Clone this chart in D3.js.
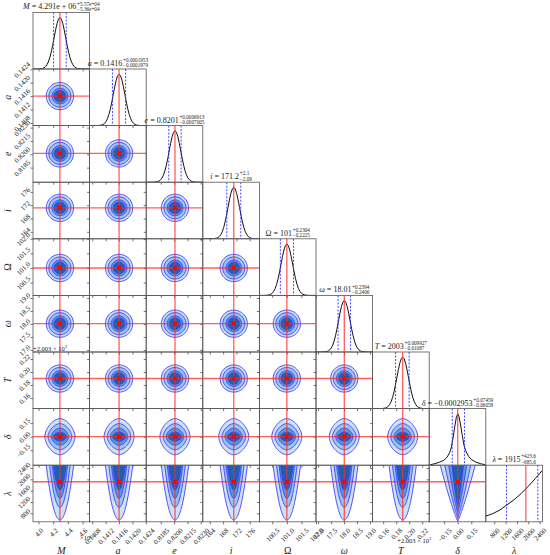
<!DOCTYPE html>
<html>
<head>
<meta charset="utf-8">
<script src="https://cdn.jsdelivr.net/npm/d3@7"></script>
<style>
  body { margin: 0; background: #fff; }
</style>
</head>
<body>
<div id="corner"></div>
<script>
// parameters, true values and plotted ranges (T is shown as offset from 2003)
const labels   = ["M", "a", "e", "i", "Ω", "ω", "T", "δ", "λ"];
const truths   = [4.291, 0.1416, 0.8201, 171.2, 101.0, 18.01, 0.190, 0.0, 1915];
const rangeLo  = [3.925, 0.14072, 0.81686, 161.9, 100.06, 16.92, 0.1437, -0.315, 500];
const rangeHi  = [4.695, 0.14241, 0.82323, 178.9, 102.0, 19.1, 0.2308, 0.31, 2500];
const q16      = [4.205, 0.141402, 0.8194, 169.11, 100.778, 17.77, 0.1791, -0.0606, 1229.4];
const q84      = [4.377, 0.141795, 0.82079, 173.3, 101.23, 18.25, 0.1999, 0.0746, 2338.6];
const sigmas   = [0.079, 0.000173, 0.000653, 1.74, 0.199, 0.223, 0.0089, null, null];

const tickVals = [
  [4.0, 4.2, 4.4, 4.6],
  [0.1408, 0.1412, 0.1416, 0.1420, 0.1424],
  [0.8185, 0.8200, 0.8215, 0.8230],
  [164, 168, 172, 176],
  [100.5, 101.0, 101.5, 102.0],
  [17.0, 17.5, 18.0, 18.5, 19.0],
  [0.16, 0.18, 0.20, 0.22],
  [-0.15, 0.0, 0.15],
  [800, 1200, 1600, 2000, 2400]
];
const tickText = [
  ["4.0", "4.2", "4.4", "4.6"],
  ["0.1408", "0.1412", "0.1416", "0.1420", "0.1424"],
  ["0.8185", "0.8200", "0.8215", "0.8230"],
  ["164", "168", "172", "176"],
  ["100.5", "101.0", "101.5", "102.0"],
  ["17.0", "17.5", "18.0", "18.5", "19.0"],
  ["0.16", "0.18", "0.20", "0.22"],
  ["−0.15", "0.00", "0.15"],
  ["800", "1200", "1600", "2000", "2400"]
];

// titles above the diagonal
const titleValue = ["4.291e + 06", "0.1416", "0.8201", "171.2", "101", "18.01", "2003", "−0.0002953", "1915"];
const titleUp    = ["+5.57e+04", "+0.0001953", "+0.0006913", "+2.1", "+0.2304", "+0.2394", "+0.009927", "+0.07459", "+423.6"];
const titleDown  = ["−5.36e+04", "−0.0001979", "−0.0007005", "−2.09", "−0.2225", "−0.2406", "−0.01087", "−0.06058", "−685.6"];

// 1D histogram shapes
const gaussZ = [-4, -3.5, -3, -2.75, -2.5, -2.25, -2, -1.75, -1.5, -1.25, -1, -0.75, -0.5, -0.25, 0,
                0.25, 0.5, 0.75, 1, 1.25, 1.5, 1.75, 2, 2.25, 2.5, 2.75, 3, 3.5, 4];
const gaussH = [0, 0.002, 0.011, 0.023, 0.044, 0.08, 0.135, 0.216, 0.325, 0.458, 0.607, 0.755, 0.882, 0.969, 1,
                0.969, 0.882, 0.755, 0.607, 0.458, 0.325, 0.216, 0.135, 0.08, 0.044, 0.023, 0.011, 0.002, 0];
const deltaHistX = [-0.30, -0.25, -0.20, -0.15, -0.12, -0.09, -0.07, -0.05, -0.03, -0.015, 0,
                    0.015, 0.03, 0.05, 0.07, 0.09, 0.12, 0.15, 0.20, 0.25, 0.30];
const deltaHistH = [0.01, 0.03, 0.06, 0.10, 0.15, 0.24, 0.35, 0.55, 0.78, 0.93, 1.0,
                    0.94, 0.80, 0.58, 0.38, 0.27, 0.17, 0.11, 0.06, 0.03, 0.01];
const lambdaHistX = [500, 750, 1000, 1250, 1500, 1750, 2000, 2250, 2500];
const lambdaHistH = [5.5, 8, 11.5, 16.5, 21.5, 27.5, 34.5, 42, 50];

// 2D contour levels, outer -> inner
const levelFill    = ["#cfe1f4", "#9fc4ea", "#5b98d6", "#1f5fae"];
const gaussLevels  = [2.35, 1.9, 1.35, 1.0];          // in sigma
const deltaRowX    = [2.6, 2.05, 1.5, 1.15];          // in sigma of the column parameter
const deltaRowY    = [0.20, 0.145, 0.095, 0.05];      // in delta
const lambdaTop    = [2.36, 1.78, 1.33, 1.09];        // half width at top, in sigma
const lambdaBottom = [564, 1012, 1330, 1624];         // lowest lambda of each contour
const dlTop        = [0.193, 0.143, 0.10, 0.064];     // delta-lambda half width at top
const dlBottom     = [530, 650, 820, 1030];

const W = 550, H = 555, n = 9;
const x0 = 33, y0 = 12.4, S = 56.6;
const serif = "'Liberation Serif','DejaVu Serif',serif";
const red = "#ff2a2a";

const svg = d3.select("#corner").append("svg")
    .attr("width", W).attr("height", H)
    .style("background", "#fff");

const xScales = labels.map((d, k) => d3.scaleLinear().domain([rangeLo[k], rangeHi[k]]).range([0, S]));
const yScales = labels.map((d, k) => d3.scaleLinear().domain([rangeLo[k], rangeHi[k]]).range([S, 0]));

function contourPoints(i, j, l) {
    const pts = [];
    const tx = truths[j], ty = truths[i];
    if (i < 7) {
        const rx = gaussLevels[l] * sigmas[j], ry = gaussLevels[l] * sigmas[i];
        for (let k = 0; k <= 72; k++) {
            const t = 2 * Math.PI * k / 72;
            pts.push([tx + rx * Math.cos(t), ty + ry * Math.sin(t)]);
        }
    } else if (i === 7) {
        const rx = deltaRowX[l] * sigmas[j], ry = deltaRowY[l], p = 1.7;
        for (let k = 0; k <= 96; k++) {
            const t = 2 * Math.PI * k / 96, c = Math.cos(t), s = Math.sin(t);
            pts.push([tx + rx * Math.sign(c) * Math.pow(Math.abs(c), 2 / p),
                      ty + ry * Math.sign(s) * Math.pow(Math.abs(s), 2 / p)]);
        }
    } else {
        const b = j === 7 ? dlBottom[l] : lambdaBottom[l];
        const top = j === 7 ? dlTop[l] : lambdaTop[l] * sigmas[j];
        const pw = j === 7 ? 0.85 : 0.5;
        const lamTop = rangeHi[8];
        const lams = d3.range(0, 41).map(k => b + (lamTop * 1.05 - b) * (k / 40) * (k / 40));
        const hw = lam => top * Math.pow(Math.max(0, (lam - b) / (lamTop - b)), pw);
        lams.slice().reverse().forEach(lam => pts.push([tx - hw(lam), lam]));
        lams.forEach(lam => pts.push([tx + hw(lam), lam]));
    }
    return pts;
}

function styleAxis(ax) {
    ax.select(".domain").remove();
    ax.attr("font-family", serif).attr("font-size", 7);
    ax.selectAll("line").attr("stroke", "#333").attr("stroke-width", 0.7);
    ax.selectAll("text").attr("fill", "#222");
}

for (let i = 0; i < n; i++) {
    for (let j = 0; j <= i; j++) {
        const g = svg.append("g").attr("transform", `translate(${x0 + j * S},${y0 + i * S})`);
        const cid = `clip-${i}-${j}`;
        g.append("clipPath").attr("id", cid).append("rect").attr("width", S).attr("height", S);
        const body = g.append("g").attr("clip-path", `url(#${cid})`);
        const xs = xScales[j];

        if (i === j) {
            // 1D marginal
            let xsData, hsData;
            if (j === 7) { xsData = deltaHistX; hsData = deltaHistH; }
            else if (j === 8) { xsData = lambdaHistX; hsData = lambdaHistH; }
            else {
                xsData = gaussZ.map(z => truths[j] + z * sigmas[j]);
                hsData = gaussH;
            }
            let pts = xsData.map((x, k) => [x, hsData[k]]);
            if (j !== 8) pts = [[rangeLo[j], 0]].concat(pts, [[rangeHi[j], 0]]);
            const hy = d3.scaleLinear().domain([0, 1.1 * d3.max(hsData)]).range([S, 0]);
            body.append("path")
                .attr("d", d3.line().x(d => xs(d[0])).y(d => hy(d[1]))(pts))
                .attr("fill", "none").attr("stroke", "#111").attr("stroke-width", 1);
            [q16[j], q84[j]].forEach(q => {
                body.append("line")
                    .attr("x1", xs(q)).attr("x2", xs(q)).attr("y1", 0).attr("y2", S)
                    .attr("stroke", "#3030ff").attr("stroke-width", 0.9)
                    .attr("stroke-dasharray", "2,1.5");
            });
        } else {
            const ys = yScales[i];
            const line = d3.line().x(d => xs(d[0])).y(d => ys(d[1]));
            const shapes = levelFill.map((c, l) => contourPoints(i, j, l));
            shapes.forEach((pts, l) => {
                body.append("path").attr("d", line(pts) + "Z").attr("fill", levelFill[l]).attr("stroke", "none");
            });
            shapes.forEach(pts => {
                body.append("path").attr("d", line(pts) + "Z").attr("fill", "none")
                    .attr("stroke", "#3b3bff").attr("stroke-width", 0.9);
            });
        }

        // x axis
        const xAx = g.append("g").attr("transform", `translate(0,${S})`)
            .call(d3.axisBottom(xs).tickValues(tickVals[j]).tickSize(2.5)
                .tickFormat(d => i === n - 1 ? tickText[j][tickVals[j].indexOf(d)] : ""));
        styleAxis(xAx);
        if (i === n - 1) {
            xAx.selectAll("text").each(function () {
                const L = this.getComputedTextLength();
                d3.select(this).attr("x", 0).attr("y", 0).attr("dy", "0.35em")
                    .attr("text-anchor", "end")
                    .attr("transform", `translate(${L * 0.354},${7.5}) rotate(-45)`);
            });
        }
        // y axis
        if (i !== j) {
            const yAx = g.append("g")
                .call(d3.axisLeft(yScales[i]).tickValues(tickVals[i]).tickSize(2.5)
                    .tickFormat(d => j === 0 ? tickText[i][tickVals[i].indexOf(d)] : ""));
            styleAxis(yAx);
            if (j === 0) {
                yAx.selectAll("text").each(function () {
                    const L = this.getComputedTextLength();
                    d3.select(this).attr("x", 0).attr("y", 0).attr("dy", "0.35em")
                        .attr("text-anchor", "end")
                        .attr("transform", `translate(-4,${-L * 0.354}) rotate(-45)`);
                });
            }
        }

        g.append("rect").attr("width", S).attr("height", S)
            .attr("fill", "none").attr("stroke", "#555").attr("stroke-width", 0.8);
    }
}

// truth lines and markers
labels.forEach((d, j) => {
    const x = x0 + j * S + xScales[j](truths[j]);
    svg.append("line").attr("x1", x).attr("x2", x)
        .attr("y1", y0 + j * S).attr("y2", y0 + n * S)
        .attr("stroke", red).attr("stroke-width", 1.3).attr("opacity", 0.75);
    if (j > 0) {
        const y = y0 + j * S + yScales[j](truths[j]);
        svg.append("line").attr("x1", x0).attr("x2", x0 + j * S)
            .attr("y1", y).attr("y2", y)
            .attr("stroke", red).attr("stroke-width", 1.3).attr("opacity", 0.75);
    }
});
for (let i = 1; i < n; i++) {
    for (let j = 0; j < i; j++) {
        svg.append("circle")
            .attr("cx", x0 + j * S + xScales[j](truths[j]))
            .attr("cy", y0 + i * S + yScales[i](truths[i]))
            .attr("r", 2.3).attr("fill", "#ff0000");
    }
}

// titles
labels.forEach((d, k) => {
    const tg = svg.append("g").attr("font-family", serif).attr("fill", "#222");
    const base = tg.append("text").attr("font-size", 8);
    base.append("tspan").attr("font-style", k === 4 ? "normal" : "italic").text(d);
    base.append("tspan").text(" = " + titleValue[k]);
    const wb = base.node().getComputedTextLength();
    const up = tg.append("text").attr("x", wb + 0.8).attr("y", -3.8).attr("font-size", 5.2).text(titleUp[k]);
    const dn = tg.append("text").attr("x", wb + 0.8).attr("y", 1.4).attr("font-size", 5.2).text(titleDown[k]);
    const w = wb + 0.8 + Math.max(up.node().getComputedTextLength(), dn.node().getComputedTextLength());
    tg.attr("transform", `translate(${x0 + k * S + S / 2 - w / 2},${y0 + k * S - 3})`);
});

// axis labels
labels.forEach((d, k) => {
    svg.append("text")
        .attr("x", x0 + k * S + S / 2).attr("y", 553.5)
        .attr("text-anchor", "middle")
        .attr("font-family", serif).attr("font-size", 10)
        .attr("font-style", k === 4 ? "normal" : "italic")
        .attr("fill", "#222").text(d);
    if (k > 0) {
        svg.append("text")
            .attr("transform", `translate(11,${y0 + k * S + S / 2}) rotate(-90)`)
            .attr("text-anchor", "middle")
            .attr("font-family", serif).attr("font-size", 10)
            .attr("font-style", k === 4 ? "normal" : "italic")
            .attr("fill", "#222").text(d);
    }
});

// offset texts
const offM = svg.append("text").attr("x", 80).attr("y", 540)
    .attr("font-family", serif).attr("font-size", 6.5).attr("fill", "#222");
offM.append("tspan").text("×10");
offM.append("tspan").attr("dy", -2.5).attr("font-size", 4.5).text("6");

const offTx = svg.append("text").attr("x", x0 + 7 * S + 2).attr("y", 542.5).attr("text-anchor", "end")
    .attr("font-family", serif).attr("font-size", 6.5).attr("fill", "#222");
offTx.append("tspan").text("+2.003 × 10");
offTx.append("tspan").attr("dy", -2.5).attr("font-size", 4.5).text("3");

const offTy = svg.append("text").attr("x", x0).attr("y", y0 + 6 * S - 1.5)
    .attr("font-family", serif).attr("font-size", 6.5).attr("fill", "#222");
offTy.append("tspan").text("+2.003 × 10");
offTy.append("tspan").attr("dy", -2.5).attr("font-size", 4.5).text("3");
</script>
</body>
</html>
